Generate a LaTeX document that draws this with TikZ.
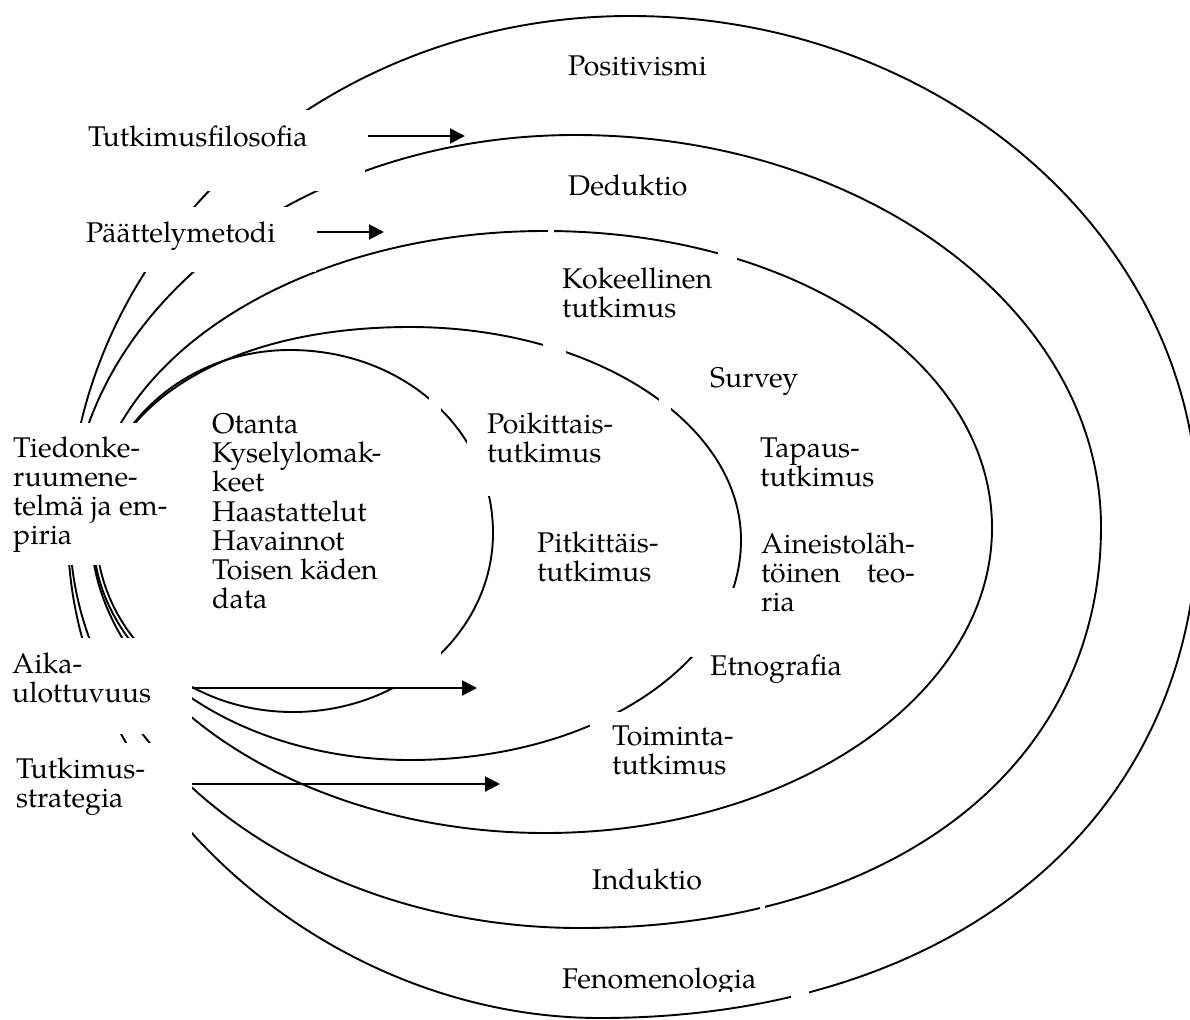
\documentclass[tikz,border=0pt]{standalone}
\usepackage{fontspec}
\setmainfont{texgyrepagella-regular.otf}
\usepackage{calc}
\usetikzlibrary{arrows.meta}
\newcommand\lblfont{\fontsize{28.5pt}{29pt}\selectfont}
\newcommand\ml[1]{\begin{tabular}[t]{@{}l@{}}#1\end{tabular}}
\tikzset{
  ring/.style={line width=1.9pt},
  maskbox/.style={fill=white, draw=none},
  lblbox/.style={fill=white, draw=none, inner sep=0pt, anchor=north west},
  lbl/.style={inner sep=0pt, anchor=base west, font=\lblfont},
  arr/.style={line width=2pt, -{Triangle[length=15pt,width=15pt]}},
}
% egg-shaped ring: four quarter arcs through left, top, right, bottom extremes
\newcommand\setk[4]{\def\kTL{#1}\def\kTR{#2}\def\kBR{#3}\def\kBL{#4}}
\newcommand\eggring[8]{%
 \draw[ring] (#1,#2)
  .. controls (#1,{#2-\kTL*(#2-#4)}) and ({#3-\kTL*(#3-#1)},#4) .. (#3,#4)
  .. controls ({#3+\kTR*(#5-#3)},#4) and (#5,{#6-\kTR*(#6-#4)}) .. (#5,#6)
  .. controls (#5,{#6+\kBR*(#8-#6)}) and ({#7+\kBR*(#5-#7)},#8) .. (#7,#8)
  .. controls ({#7-\kBL*(#7-#1)},#8) and (#1,{#2+\kBL*(#8-#2)}) .. (#1,#2) -- cycle;}
\begin{document}
\begin{tikzpicture}[x=1pt,y=-1pt]
\useasboundingbox (0,0) rectangle (1190,1019);
\fill[white] (0,0) rectangle (1190,1019);
\path[clip] (0,0) rectangle (1190,1019);

% rings (outer to inner)
\setk{0.552}{0.552}{0.60}{0.523}
\eggring{68}{534}{630}{16}{1198}{515}{600}{1018}
\setk{0.55}{0.552}{0.60}{0.55}
\eggring{70}{530}{575}{135}{1101}{527}{580}{928}
\setk{0.552}{0.56}{0.55}{0.54}
\eggring{91}{530}{545}{231}{992}{528}{545}{833}
\setk{0.60}{0.552}{0.56}{0.552}
\eggring{93}{535}{410}{327}{741}{540}{410}{760}
\setk{0.552}{0.56}{0.552}{0.56}
\eggring{96}{530}{290}{350}{493}{533}{293}{712}

% gaps in the rings
\fill[maskbox] (548,224) rectangle (554,240);
\fill[maskbox] (718,246) rectangle (737,272);
\fill[maskbox] (543,336) rectangle (566,362);
\fill[maskbox] (659,390) rectangle (671,420);
\fill[maskbox] (691,588) rectangle (748,657);
\fill[maskbox] (590,712) rectangle (650,745);
\fill[maskbox] (429,390) rectangle (441,422);
\fill[maskbox] (467,438) rectangle (502,496);
\fill[maskbox] (393,651) rectangle (441,689);
\fill[maskbox] (760,894) rectangle (765,914);
\fill[maskbox] (791,988) rectangle (809,1017);

% left label boxes
\node[lblbox, minimum width=305pt, minimum height=81pt] (tfbox) at (60,110) {};
\node[lblbox, minimum width=256pt, minimum height=65pt] (pmbox) at (60,207) {};
\node[lblbox, minimum width=165pt, minimum height=142pt] (tkbox) at (5,423) {};
\node[lblbox, minimum width=187pt, minimum height=96pt] (akbox) at (5,638) {};
\node[lblbox, minimum width=187pt, minimum height=106pt] (tsbox) at (5,743) {};

% left labels
\node[lbl] (tf) at (88,147) {Tutkimusfilosofia};
\node[lbl] (pm) at (86,242) {Päättelymetodi};
\node[lbl] (tk) at (13,457) {\ml{Tiedonke-\\ruumene-\\telmä ja em-\\piria}};
\node[lbl] (ak) at (12,673) {\ml{Aika-\\ulottuvuus}};
\node[lbl] (ts) at (16,778) {\ml{Tutkimus-\\strategia}};

% ring labels
\node[lbl] (pos) at (568,76) {Positivismi};
\node[lbl] (ded) at (568,196) {Deduktio};
\node[lbl] (kok) at (562,288) {\ml{Kokeellinen\\tutkimus}};
\node[lbl] (sur) at (710,387) {Survey};
\node[lbl] (tap) at (760,457) {\ml{Tapaus-\\tutkimus}};
\node[lbl] (ain) at (761,553) {\ml{Aineistoläh-\\\makebox[\widthof{Aineistoläh-}][s]{töinen\hfill teo-}\\ria}};
\node[lbl] (etn) at (710,675) {Etnografia};
\node[lbl] (toi) at (612,745) {\ml{Toiminta-\\tutkimus}};
\node[lbl] (ind) at (592,889) {Induktio};
\begin{scope}
\clip (540,940) rectangle (780,991);
\node[lbl] (fen) at (562,988) {Fenomenologia};
\end{scope}
\node[lbl] (poi) at (487,433) {\ml{Poikittais-\\tutkimus}};
\node[lbl] (pit) at (537,552) {\ml{Pitkittäis-\\tutkimus}};
\node[lbl] (ota) at (212,433) {\ml{Otanta\\Kyselylomak-\\keet\\Haastattelut\\Havainnot\\Toisen käden\\data}};

% arrows
\coordinate (a1s) at (368,136);
\coordinate (a1e) at (465,136);
\coordinate (a2s) at (317,232);
\coordinate (a2e) at (384,232);
\coordinate (a3s) at (192,688);
\coordinate (a3e) at (477,688);
\coordinate (a4s) at (192,784);
\coordinate (a4e) at (500,784);
\draw[arr] (a1s) -- (a1e);
\draw[arr] (a2s) -- (a2e);
\draw[arr] (a3s) -- (a3e);
\draw[arr] (a4s) -- (a4e);
\end{tikzpicture}
\end{document}
